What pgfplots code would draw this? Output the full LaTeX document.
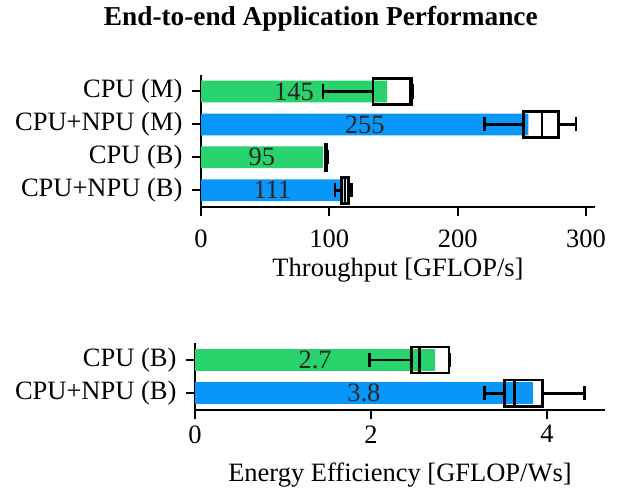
\documentclass[border=0pt]{standalone}
\usepackage{pgfplots}
\pgfplotsset{compat=1.18}
\usepgfplotslibrary{statistics}
\usepackage{fontspec}
\setmainfont{Liberation Serif}
\definecolor{cgreen}{RGB}{41,211,108}
\definecolor{cblue}{RGB}{8,150,248}
\newcommand{\bigfont}{\fontsize{26.5}{31}\selectfont}
\begin{document}
\begin{tikzpicture}
\useasboundingbox (0,0) rectangle (618pt,493pt);
\pgfplotsset{
  mystyle/.style={
    scale only axis,
    enlargelimits=false,
    axis x line*=bottom, axis y line*=left,
    axis line style={line width=2pt, -},
    tick style={line width=2pt, black},
    major tick length=9pt,
    tick align=outside,
    tick label style={font=\bigfont},
    label style={font=\bigfont},
    /pgf/number format/assume math mode=true,
    xlabel style={at={(axis description cs:0.5,0)}, anchor=base, yshift=-70pt},
    yticklabel style={xshift=-6pt},
  },
  mybox/.style={black, solid, line width=2.6pt, boxplot/draw direction=x,
    boxplot/box extend=0.79, boxplot/whisker extend=0.43},
  mylab/.style={only marks, mark=none, nodes near coords, point meta=explicit symbolic,
    nodes near coords align=center,
    every node near coord/.append style={font=\bigfont, text=black!85, anchor=center}},
}
% ---------- top axis ----------
\begin{axis}[mystyle,
  at={(201pt,286.3pt)}, anchor=south west,
  width=394pt, height=131.7pt,
  xmin=0, xmax=307, ymin=-0.5, ymax=3.5,
  xtick={0,100,200,300},
  ytick={0,1,2,3},
  yticklabels={CPU+NPU (B),CPU (B),CPU+NPU (M),CPU (M)},
  xlabel={Throughput [GFLOP/s]},
  xticklabel style={yshift=-11pt},
]
\addplot[xbar, bar shift=0pt, bar width=0.66, fill=cgreen, draw=none] coordinates {(145,3) (95,1)};
\addplot[xbar, bar shift=0pt, bar width=0.66, fill=cblue, draw=none] coordinates {(255,2) (111,0)};
\addplot[mybox, boxplot prepared={draw position=3, lower whisker=95, lower quartile=134, median=163, upper quartile=164, upper whisker=165}] coordinates {};
\addplot[mybox, boxplot prepared={draw position=2, lower whisker=220.7, lower quartile=251.4, median=265.7, upper quartile=278.7, upper whisker=292.3}] coordinates {};
\addplot[mybox, boxplot prepared={draw position=1, lower whisker=96.5, lower quartile=97, median=97.5, upper quartile=98, upper whisker=98.5}] coordinates {};
\addplot[mybox, boxplot prepared={draw position=0, lower whisker=104.4, lower quartile=109.6, median=112.2, upper quartile=114.8, upper whisker=117.4}] coordinates {};
\addplot[mylab] table[meta=lab] {
x y lab
72.5 3 145
127.5 2 255
47.5 1 95
55.5 0 111
};
\end{axis}
% ---------- bottom axis ----------
\begin{axis}[mystyle,
  at={(195pt,83pt)}, anchor=south west,
  width=410pt, height=66.7pt,
  xmin=0, xmax=4.66, ymin=-0.5, ymax=1.5,
  xtick={0,2,4},
  ytick={0,1},
  yticklabels={CPU+NPU (B),CPU (B)},
  xlabel={Energy Efficiency [GFLOP/Ws]},
  xlabel style={yshift=-1.7pt},
  xticklabel style={yshift=-3pt},
]
\addplot[xbar, bar shift=0pt, bar width=0.66, fill=cgreen, draw=none] coordinates {(2.73,1)};
\addplot[xbar, bar shift=0pt, bar width=0.66, fill=cblue, draw=none] coordinates {(3.84,0)};
\addplot[mybox, boxplot prepared={draw position=1, lower whisker=1.985, lower quartile=2.46, median=2.55, upper quartile=2.885, upper whisker=2.9}] coordinates {};
\addplot[mybox, boxplot prepared={draw position=0, lower whisker=3.29, lower quartile=3.52, median=3.63, upper quartile=3.95, upper whisker=4.43}] coordinates {};
\addplot[mylab] table[meta=lab] {
x y lab
1.365 1 2.7
1.92 0 3.8
};
\end{axis}
\node[font=\bfseries\fontsize{27.3}{32}\selectfont, anchor=base] at (320.8pt,467pt) {End-to-end Application Performance};
\end{tikzpicture}
\end{document}
